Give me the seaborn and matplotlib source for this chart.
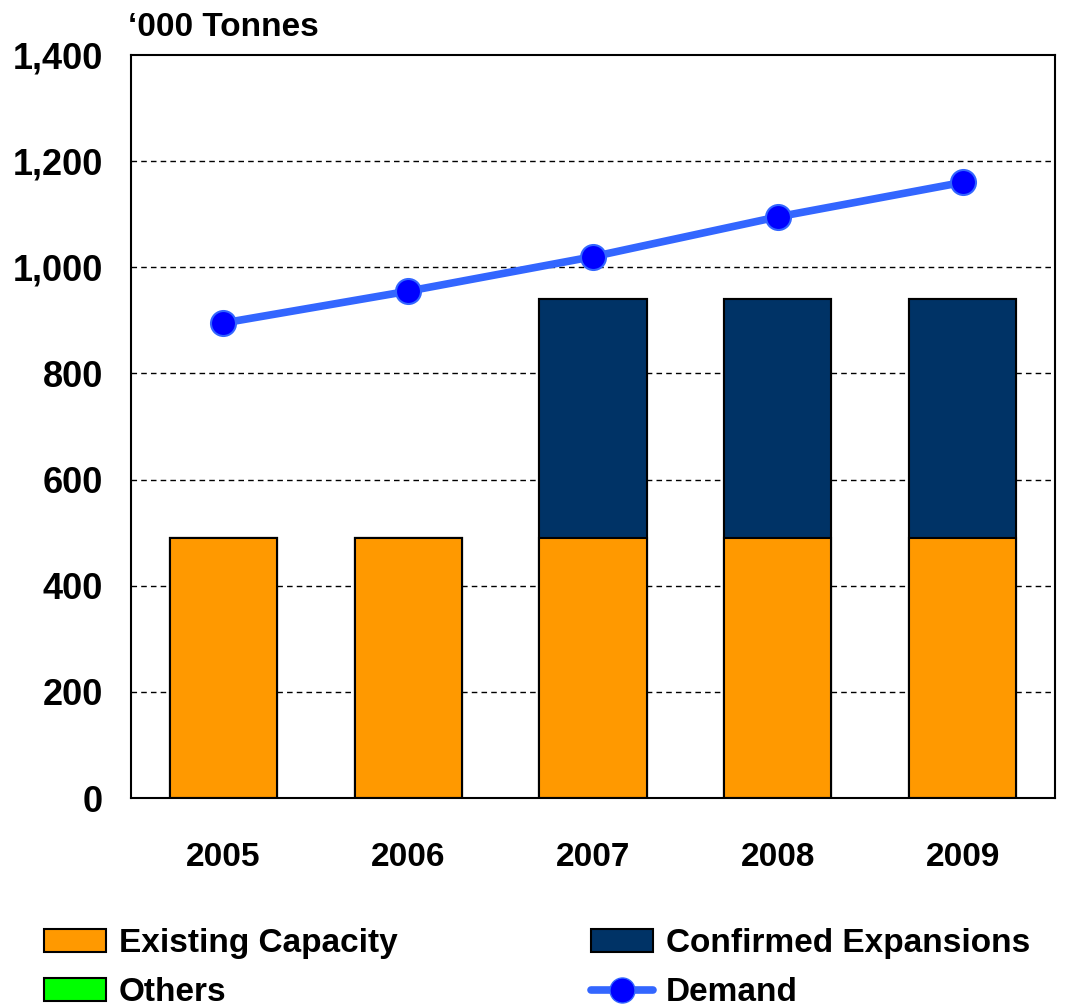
import matplotlib
matplotlib.use("Agg")
import matplotlib.pyplot as plt
import seaborn as sns
import pandas as pd
from matplotlib.patches import Patch
from matplotlib.lines import Line2D

years = ["2005", "2006", "2007", "2008", "2009"]
existing = [490, 490, 490, 490, 490]
expansions = [0, 0, 450, 450, 450]
others = [0, 0, 0, 0, 0]
demand = [895, 955, 1020, 1095, 1160]
yticks = [0, 200, 400, 600, 800, 1000, 1200, 1400]

ORANGE = "#FF9900"
NAVY = "#003366"
GREEN = "#00FF00"
LINE_BLUE = "#3366FF"
DOT_BLUE = "#0000FF"

sns.set_style("white")
plt.rcParams["font.family"] = ["Liberation Sans", "DejaVu Sans"]
plt.rcParams["font.weight"] = "bold"
plt.rcParams["text.color"] = "black"
plt.rcParams["xtick.color"] = "black"
plt.rcParams["ytick.color"] = "black"

df = pd.DataFrame({"year": years, "existing": existing,
                   "expansions": expansions, "others": others})
df["total_exp"] = df["existing"] + df["expansions"]
df["total_all"] = df["total_exp"] + df["others"]

fig = plt.figure(figsize=(10.72, 10.08), dpi=100)
ax = fig.add_axes([131/1072, 1-798/1008, (1055-131)/1072, (798-55)/1008])

# stacked bars: totals first, lower segments drawn over them
sns.barplot(data=df, x="year", y="total_all", color=GREEN, width=0.58,
            edgecolor="black", linewidth=1.5, saturation=1, ax=ax)
sns.barplot(data=df, x="year", y="total_exp", color=NAVY, width=0.58,
            edgecolor="black", linewidth=1.5, saturation=1, ax=ax)
sns.barplot(data=df, x="year", y="existing", color=ORANGE, width=0.58,
            edgecolor="black", linewidth=1.5, saturation=1, ax=ax)

ax.plot(range(len(years)), demand, color=LINE_BLUE, lw=5.5, marker="o",
        ms=18, mfc=DOT_BLUE, mec=LINE_BLUE, mew=1.5, zorder=5)

ax.set_ylim(0, 1400)
ax.set_xlim(-0.5, len(years) - 0.5)
ax.set_yticks(yticks)
ax.set_yticklabels([f"{v:,}" for v in yticks])
ax.set_xlabel("")
ax.set_ylabel("")
ax.tick_params(axis="y", length=0, pad=20, labelsize=26, labelcolor="black")
ax.tick_params(axis="x", length=0, pad=32, labelsize=24, labelcolor="black")
for lab in ax.get_xticklabels() + ax.get_yticklabels():
    lab.set_fontweight("bold")

for v in yticks[1:-1]:
    ax.axhline(v, color="black", lw=1, ls=(0, (4, 3)), zorder=0)

for s in ax.spines.values():
    s.set_color("black")
    s.set_linewidth(1.5)

fig.text(128/1072, 1-36/1008, "\u2018000 Tonnes", fontsize=24,
         fontweight="bold", va="baseline", ha="left", color="black")

leg_kw = dict(frameon=False, handlelength=1.85, handleheight=0.68,
              handletextpad=0.4, labelspacing=0.55, borderpad=0,
              borderaxespad=0, loc="upper left",
              prop={"weight": "bold", "size": 24}, labelcolor="black")
h1 = [Patch(facecolor=ORANGE, edgecolor="black", lw=1.5),
      Patch(facecolor=GREEN, edgecolor="black", lw=1.5)]
h2 = [Patch(facecolor=NAVY, edgecolor="black", lw=1.5),
      Line2D([], [], color=LINE_BLUE, lw=5.5, marker="o", ms=18,
             mfc=DOT_BLUE, mec=LINE_BLUE)]
fig.legend(h1, ["Existing Capacity", "Others"],
           bbox_to_anchor=(44/1072, 1-928/1008), **leg_kw)
fig.legend(h2, ["Confirmed Expansions", "Demand"],
           bbox_to_anchor=(591/1072, 1-928/1008), **leg_kw)

fig.savefig("out.png", dpi=100)
